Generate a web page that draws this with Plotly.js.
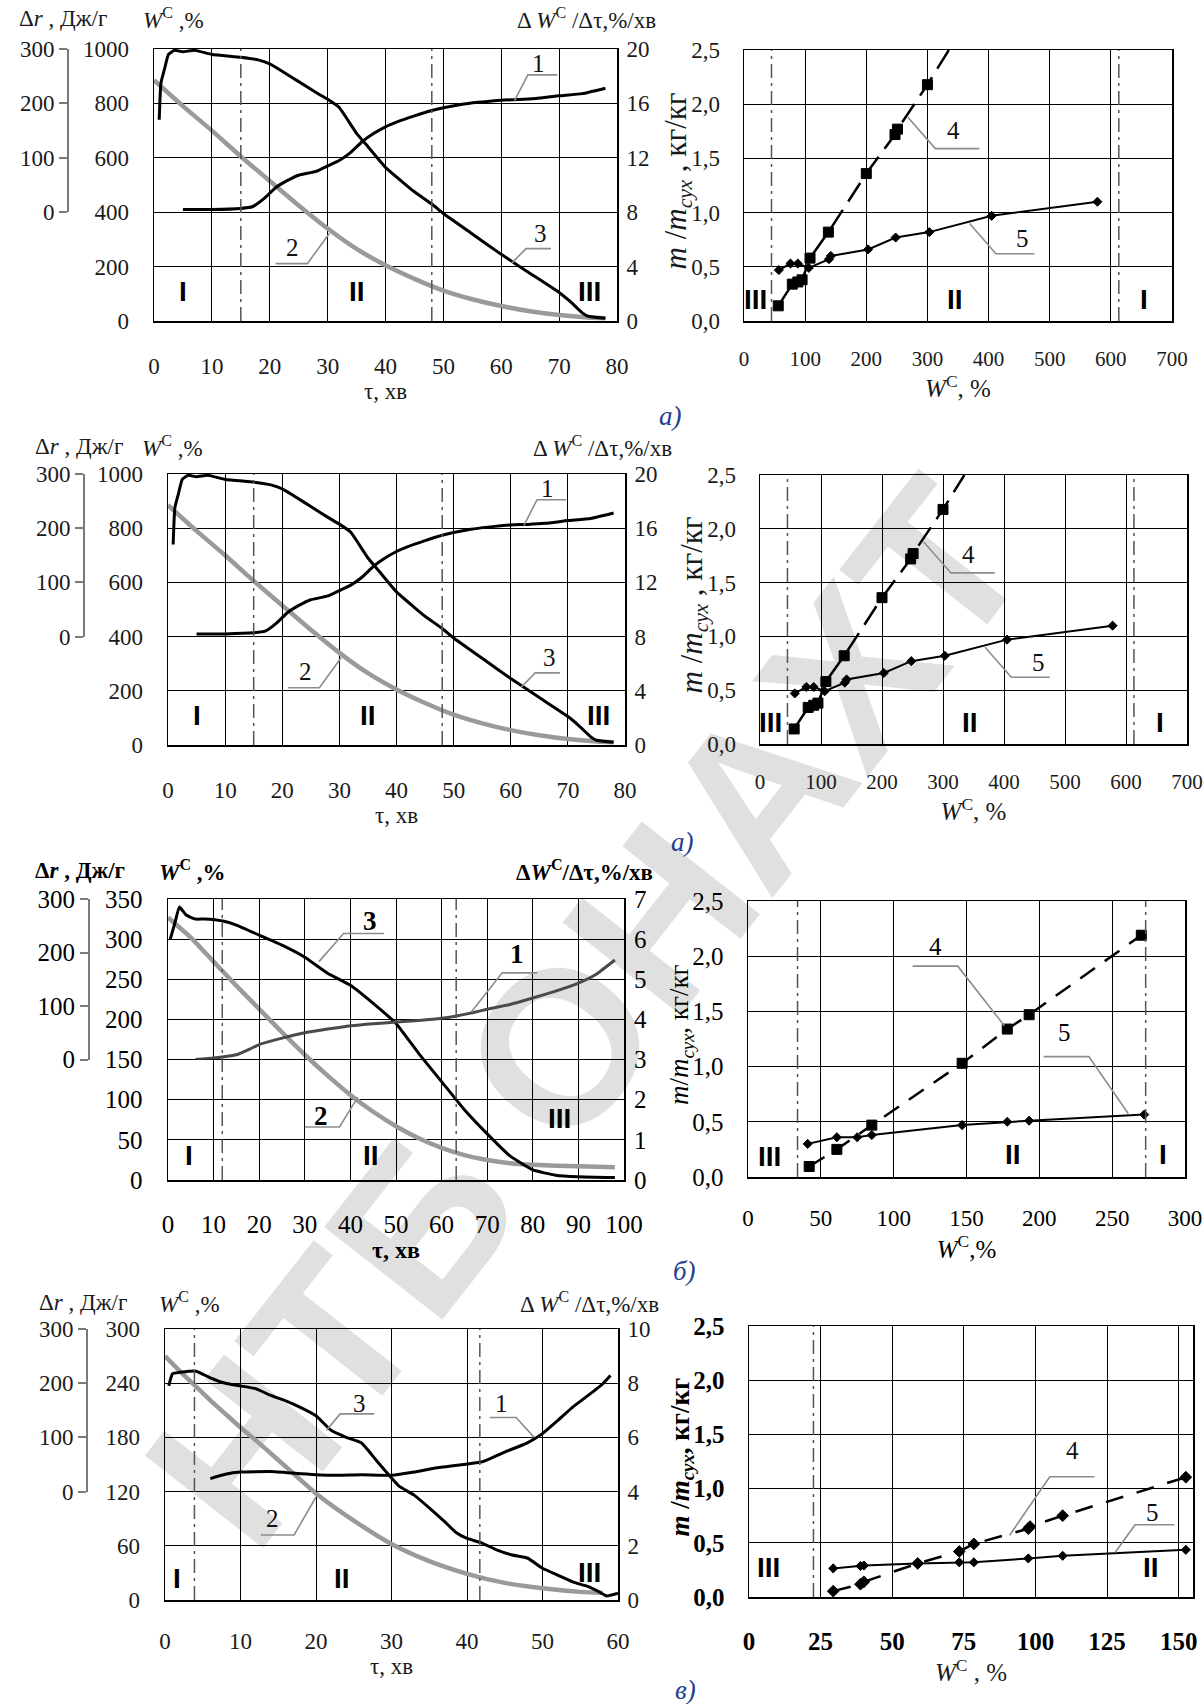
<!DOCTYPE html>
<html><head><meta charset="utf-8">
<script src="https://cdn.plot.ly/plotly-3.0.1.min.js"></script>
<style>html,body{margin:0;padding:0;background:#fff}#chart{width:1203px;height:1704px}</style>
</head><body><div id="chart"></div>
<script>
// ================= DATA =================
// а) (the figure is printed twice: rows 1 and 2)
const tauA_W = [0, 5, 10, 15, 20, 25, 30, 35, 40, 45, 50, 55, 60, 65, 70, 75, 78];
const moistA = [885, 790, 700, 605, 515, 425, 340, 265, 205, 155, 112, 80, 55, 36, 22, 13, 10];
const tauA_R = [0.9, 1.2, 1.8, 2.5, 3.5, 5, 7, 10, 15, 18, 20, 22, 25, 28, 30, 32, 35, 37, 40, 43, 45, 48, 50, 55, 60, 65, 70, 72, 74, 75, 78];
const rateA  = [14.8, 17.5, 18.5, 19.6, 19.9, 19.8, 19.9, 19.6, 19.4, 19.2, 18.9, 18.4, 17.6, 16.8, 16.3, 15.7, 13.8, 12.8, 11.3, 10.2, 9.5, 8.6, 7.9, 6.4, 4.9, 3.5, 2.1, 1.4, 0.6, 0.35, 0.2];
const tauA_D = [5, 10, 15, 17, 19, 21, 23, 25, 28, 30, 32, 34, 36, 38, 40, 42, 45, 48, 50, 53, 56, 60, 63, 66, 70, 74, 78];
const drA    = [5, 5, 7, 10, 25, 45, 58, 68, 75, 85, 95, 110, 130, 145, 157, 166, 177, 187, 192, 198, 202, 206, 207, 209, 214, 218, 228];
const wA4 = [56, 79, 88, 95, 108, 138, 200, 247, 251, 300, 335];
const mA4 = [0.14, 0.34, 0.36, 0.38, 0.58, 0.82, 1.36, 1.72, 1.77, 2.18, 2.5];
const wA5 = [57, 76, 88, 106, 139, 142, 203, 248, 303, 405, 578];
const mA5 = [0.47, 0.53, 0.53, 0.49, 0.57, 0.60, 0.66, 0.77, 0.82, 0.97, 1.10];
const stagesA_tau = [15, 48];
const stagesA_W = [45, 613];

// б)
const tauB_W = [0, 5, 10, 15, 20, 25, 30, 35, 40, 45, 50, 55, 60, 65, 70, 75, 80, 90, 98];
const moistB = [327, 302, 272, 242, 213, 184, 156, 130, 106, 85, 67, 52, 40, 31, 25, 21, 19, 17, 16];
const tauB_R = [0.5, 1.5, 2.5, 4, 6, 8, 12, 15, 20, 25, 30, 35, 40, 45, 50, 55, 60, 65, 70, 75, 80, 85, 90, 98];
const rateB  = [6.0, 6.4, 6.8, 6.6, 6.5, 6.5, 6.45, 6.35, 6.1, 5.85, 5.55, 5.15, 4.85, 4.4, 3.9, 3.15, 2.45, 1.75, 1.15, 0.6, 0.25, 0.12, 0.08, 0.06];
const tauB_D = [6, 10, 15, 18, 20, 25, 30, 35, 40, 45, 50, 55, 60, 63, 67, 70, 75, 80, 85, 90, 94, 98];
const drB    = [0, 3, 9, 20, 28, 40, 50, 57, 63, 67, 70, 73, 77, 81, 88, 94, 103, 115, 128, 143, 160, 186];
const wB4 = [42, 61, 85, 147, 178, 193, 270];
const mB4 = [0.095, 0.25, 0.47, 1.03, 1.34, 1.47, 2.19];
const wB5 = [41, 61, 75, 85, 147, 178, 193, 272];
const mB5 = [0.30, 0.36, 0.36, 0.38, 0.47, 0.50, 0.51, 0.565];
const stagesB_tau = [11.9, 63.2];
const stagesB_W = [34, 273];

// в)
const tauV_W = [0, 2, 4, 6, 8, 10, 12, 15, 20, 25, 30, 35, 40, 45, 50, 55, 58];
const moistV = [270, 253, 237, 221, 206, 191, 177, 155, 118, 88, 62, 43, 29, 19, 13, 9, 8];
const tauV_R = [0.5, 1, 2, 4, 6, 8, 10, 12, 14, 16, 18, 20, 22, 24, 26, 28, 30, 31, 33, 35, 37, 38.5, 40, 42, 44, 46, 48, 50, 52, 54, 56, 57.5, 58.5, 60];
const rateV  = [7.9, 8.35, 8.4, 8.45, 8.2, 8.0, 7.9, 7.8, 7.55, 7.35, 7.1, 6.8, 6.26, 6.0, 5.8, 5.15, 4.5, 4.2, 3.87, 3.4, 2.9, 2.5, 2.27, 2.1, 1.84, 1.66, 1.55, 1.17, 0.92, 0.67, 0.5, 0.3, 0.15, 0.25];
const tauV_D = [6, 8, 10, 14, 18, 22, 26, 30, 33, 36, 40, 42, 45, 48, 50, 52, 54, 56, 58, 59];
const drV    = [24, 32, 36, 37, 33, 30, 31, 30, 36, 44, 51, 55, 73, 90, 107, 131, 156, 177, 199, 214];
const wV4 = [29.4, 38.9, 40.1, 58.9, 73.4, 78.5, 97.5, 98.1, 109.5, 152.5];
const mV4 = [0.054, 0.118, 0.14, 0.31, 0.42, 0.49, 0.63, 0.65, 0.75, 1.105];
const wV5 = [29.4, 38.9, 40.1, 58.9, 73.4, 78.5, 97.5, 109.5, 152.5];
const mV5 = [0.264, 0.286, 0.29, 0.31, 0.32, 0.32, 0.356, 0.38, 0.435];
const stagesV_tau = [3.9, 41.7];
const stagesV_W = [22.5];

const stageNames = ['I', 'II', 'III'];

// ================= LAYOUT HELPERS =================
const FW = 1203, FH = 1704;
const px = v => v / FW;
const py = v => 1 - v / FH;
const data = [];
const layout = {
  width: FW, height: FH, autosize: false,
  margin: {l: 0, r: 0, t: 0, b: 0},
  paper_bgcolor: '#fff', plot_bgcolor: 'rgba(0,0,0,0)',
  showlegend: false, separators: ', ',
  font: {family: 'Liberation Serif', color: '#111'},
  annotations: [], shapes: []
};
let xc = 0, yc = 0;
const nx = () => (++xc === 1 ? 'x' : 'x' + xc);
const ny = () => (++yc === 1 ? 'y' : 'y' + yc);
const key = id => id[0] + 'axis' + id.slice(1);
const CLEAR = 'rgba(0,0,0,0)';
const GRID = {showgrid: true, gridcolor: '#000', gridwidth: 1, zeroline: false, ticklabeloverflow: 'allow',
  showline: true, mirror: true, linecolor: '#000', linewidth: 1.5, ticks: 'outside', tickcolor: CLEAR};

function leader(xa, ya, pts) {
  layout.shapes.push({type: 'path', xref: xa, yref: ya,
    path: 'M' + pts.map(p => p[0] + ',' + p[1]).join(' L'),
    line: {color: '#8c8c8c', width: 1.6}});
}
function note(xa, ya, x, y, text, font) {
  layout.annotations.push({xref: xa, yref: ya, x, y, text, showarrow: false, font});
}
function paperText(x, y, text, font, xanchor, angle) {
  layout.annotations.push({xref: 'paper', yref: 'paper', x: px(x), y: py(y), text, showarrow: false,
    xanchor: xanchor || 'left', yanchor: 'middle', textangle: angle || 0, font});
}
function stageLines(xa, ya, list) {
  list.forEach(v => layout.shapes.push({type: 'line', xref: xa, yref: ya + ' domain', x0: v, x1: v, y0: 0, y1: 1,
    line: {color: '#555', width: 1.5, dash: '14px,5px,3px,5px'}}));
}

function leftPanel(c) {
  const xa = nx(), yw = ny(), yr = ny(), yd = ny();
  const f = c.frame, yb = py(f.b), yt = py(f.t);
  layout[key(xa)] = Object.assign({}, GRID, {domain: [px(f.l), px(f.r)], anchor: yw, range: [0, c.xMax],
    dtick: c.xDtick, tick0: 0, ticklen: c.xTickLen, tickfont: c.tf,
    title: {text: 'τ, хв', font: c.titleFont, standoff: 0}});
  layout[key(yw)] = Object.assign({}, GRID, {domain: [yb, yt], anchor: xa, range: [0, c.wMax],
    dtick: c.wDtick, tick0: 0, ticklen: 19, tickfont: c.tf});
  layout[key(yr)] = {overlaying: yw, anchor: xa, side: 'right', range: [0, c.rMax], dtick: c.rDtick, tick0: 0,
    showgrid: false, zeroline: false, showline: false, ticks: 'outside', ticklen: 4, tickcolor: CLEAR, tickfont: c.tf};
  layout[key(yd)] = {domain: [yb + c.drZeroFrac * (yt - yb), yt], anchor: 'free', position: px(c.drAxisX), side: 'left',
    range: [0, 300], dtick: 100, tick0: 0, showgrid: false, zeroline: false, showline: true,
    linecolor: '#7a7a7a', linewidth: 2, ticks: 'outside', ticklen: 8, tickwidth: 2, tickcolor: '#7a7a7a', tickfont: c.tf};

  data.push({type: 'scatter', mode: 'lines', x: c.tauW, y: c.moist, xaxis: xa, yaxis: yw, hoverinfo: 'skip',
    line: {color: '#9a9a9a', width: 4.5, shape: 'spline', smoothing: 0.6}});
  data.push({type: 'scatter', mode: 'lines', x: c.tauR, y: c.rate, xaxis: xa, yaxis: yr, hoverinfo: 'skip',
    line: {color: '#000', width: 3, shape: 'spline', smoothing: 0.4}});
  data.push({type: 'scatter', mode: 'lines', x: c.tauD, y: c.dr, xaxis: xa, yaxis: yd, hoverinfo: 'skip',
    line: {color: c.drColor, width: 3, shape: 'spline', smoothing: 0.4}});

  stageLines(xa, yw, c.stages);
  c.regions.forEach((r, i) => note(xa, yw, r[0], r[1], stageNames[i], c.romanFont));
  c.labels.forEach(L => { note(xa, yw, L.at[0], L.at[1], L.text, c.numFont); leader(xa, yw, L.path); });

  const hy = c.headerY;
  paperText(c.hdr[0], hy, 'Δ<i>r</i> , Дж/г', c.hdrFont);
  paperText(c.hdr[1], hy, '<i>W</i><sup>C</sup> ,%', c.hdrFont);
  paperText(c.hdr[2], hy, c.rateHdr, c.hdrFont, 'right');
}

function rightPanel(c) {
  const xa = nx(), ym = ny();
  const f = c.frame;
  layout[key(xa)] = Object.assign({}, GRID, {domain: [px(f.l), px(f.r)], anchor: ym, range: [0, c.xMax],
    dtick: c.xDtick, tick0: 0, ticklen: c.xTickLen, tickfont: c.xtf,
    title: {text: c.xTitle, font: c.titleFont, standoff: 0}});
  layout[key(ym)] = Object.assign({}, GRID, {domain: [py(f.b), py(f.t)], anchor: xa, range: [0, 2.5],
    dtick: 0.5, tick0: 0, tickformat: '.1f', ticklen: 18, tickfont: c.tf});
  // rotated y-axis caption, placed tight against the tick labels as in the print
  paperText(c.yTitleX, (f.t + f.b) / 2 - 4, c.yTitle, c.yTitleFont, 'center', -90);

  const sizes4 = c.w4.map((_, i) => (c.openEnd && i === c.w4.length - 1) ? 0 : c.size4);
  data.push({type: 'scatter', mode: 'lines+markers', x: c.w4, y: c.m4, xaxis: xa, yaxis: ym, hoverinfo: 'skip',
    line: {color: '#000', width: 2.5, dash: c.dash4},
    marker: {symbol: c.sym4, size: sizes4, color: '#000', opacity: 1, line: {color: '#000', width: 1}}});
  data.push({type: 'scatter', mode: 'lines+markers', x: c.w5, y: c.m5, xaxis: xa, yaxis: ym, hoverinfo: 'skip',
    line: {color: '#000', width: 2},
    marker: {symbol: 'diamond', size: 7, color: '#000', opacity: 1, line: {color: '#000', width: 1}}});

  stageLines(xa, ym, c.stages);
  c.regions.forEach(r => note(xa, ym, r[0], r[1], r[2], c.romanFont));
  c.labels.forEach(L => { note(xa, ym, L.at[0], L.at[1], L.text, c.numFont); leader(xa, ym, L.path); });
}

// ================= FONTS =================
const fTickA = {family: 'Liberation Serif', size: 23, color: '#1a1a1a'};
const fTickAx = {family: 'Liberation Serif', size: 21, color: '#1a1a1a'};
const fTickB = {family: 'Liberation Serif', size: 25, color: '#000'};
const fTickBx = {family: 'Liberation Serif', size: 23, color: '#000'};
const fTickVb = {family: 'Liberation Serif', size: 25, color: '#000', weight: 700};
const fTitle = {family: 'Liberation Serif', size: 23, color: '#1a1a1a'};
const fTitleB = {family: 'Liberation Serif', size: 24, color: '#000', weight: 700};
const fXTitleR = {family: 'Liberation Serif', size: 25, color: '#1a1a1a'};
const fXTitleRB = {family: 'Liberation Serif', size: 25, color: '#000'};
const fYTitle = {family: 'Liberation Serif', size: 31, color: '#1a1a1a'};
const fYTitleB = {family: 'Liberation Serif', size: 27, color: '#000'};
const fYTitleVb = {family: 'Liberation Serif', size: 27, color: '#000', weight: 700};
const fRoman = {family: 'Liberation Sans', size: 28, color: '#000', weight: 700};
const fNum = {family: 'Liberation Serif', size: 25, color: '#111'};
const fHdr = {family: 'Liberation Serif', size: 23, color: '#1a1a1a'};
const fHdrB = {family: 'Liberation Serif', size: 23, color: '#000', weight: 700};
const fTag = {family: 'Liberation Serif', size: 27, color: '#23408e', style: 'italic'};

const rateHdrThin = 'Δ <i>W</i><sup>C</sup> /Δτ,%/хв';
const rateHdrBold = 'Δ<i>W</i><sup>C</sup>/Δτ,%/хв';

// ================= PANELS =================
const labelsA_L = [
  {text: '1', at: [66.5, 945], path: [[62.3, 810], [64.6, 905], [69.7, 905]]},
  {text: '2', at: [24, 272], path: [[21, 211], [26.5, 211], [30.3, 322]]},
  {text: '3', at: [66.7, 322], path: [[61.8, 213], [64.3, 266], [68.6, 266]]}
];
const labelsA_R = [
  {text: '4', at: [342, 1.76], path: [[268, 1.88], [313, 1.59], [385, 1.59]]},
  {text: '5', at: [456, 0.76], path: [[369, 0.9], [412, 0.62], [475, 0.62]]}
];
const rowsA = [
  {L: {l: 154, r: 617, t: 49, b: 321}, R: {l: 744, r: 1172, t: 50, b: 321}, hy: 19, hdr: [17, 141, 658], dr: 68, tag: [670, 416], yt: 677},
  {L: {l: 168, r: 625, t: 474, b: 745}, R: {l: 760, r: 1187, t: 475, b: 744}, hy: 446, hdr: [33, 140, 674], dr: 84, tag: [682, 842], yt: 693}
];
rowsA.forEach(row => {
  leftPanel({frame: row.L, xMax: 80, xDtick: 10, xTickLen: 24, wMax: 1000, wDtick: 200, rMax: 20, rDtick: 4,
    drZeroFrac: 400 / 1000, drAxisX: row.dr, tf: fTickA, titleFont: fTitle,
    tauW: tauA_W, moist: moistA, tauR: tauA_R, rate: rateA, tauD: tauA_D, dr: drA, drColor: '#000',
    stages: stagesA_tau, regions: [[5, 108], [35, 108], [75.3, 108]], romanFont: fRoman,
    labels: labelsA_L, numFont: fNum, headerY: row.hy, hdr: row.hdr, hdrFont: fHdr, rateHdr: rateHdrThin});
  rightPanel({frame: row.R, xMax: 700, xDtick: 100, xTickLen: 18, tf: fTickA, xtf: fTickAx, titleFont: fXTitleR,
    xTitle: '<i>W</i><sup>C</sup>, %', yTitle: '<i>m</i> /<i>m</i><sub><i>сух</i></sub> , кг/кг', yTitleFont: fYTitle, yTitleX: row.yt,
    w4: wA4, m4: mA4, openEnd: true, size4: 10, sym4: 'square', dash4: '22px,10px', w5: wA5, m5: mA5,
    stages: stagesA_W, regions: [[18, 0.2, 'III'], [345, 0.2, 'II'], [655, 0.2, 'I']], romanFont: fRoman,
    labels: labelsA_R, numFont: fNum});
  paperText(row.tag[0], row.tag[1], 'а)', fTag, 'center');
});

// б)
leftPanel({frame: {l: 168, r: 624, t: 899, b: 1180}, xMax: 100, xDtick: 10, xTickLen: 21, wMax: 350, wDtick: 50, rMax: 7, rDtick: 1,
  drZeroFrac: 150 / 350, drAxisX: 89, tf: fTickB, titleFont: fTitleB,
  tauW: tauB_W, moist: moistB, tauR: tauB_R, rate: rateB, tauD: tauB_D, dr: drB, drColor: '#4a4a4a',
  stages: stagesB_tau, regions: [[4.7, 31], [44.5, 31], [85.9, 76]], romanFont: fRoman,
  labels: [
    {text: '3', at: [44.3, 322], path: [[33.1, 272], [38.5, 307], [47.4, 307]]},
    {text: '1', at: [76.5, 281], path: [[66.6, 210], [73.3, 258], [81, 258]]},
    {text: '2', at: [33.5, 80], path: [[30, 66], [37.6, 66], [41.6, 103]]}
  ], numFont: {family: 'Liberation Serif', size: 27, color: '#000', weight: 700},
  headerY: 870, hdr: [33, 157, 655], hdrFont: fHdrB, rateHdr: rateHdrBold});
rightPanel({frame: {l: 748, r: 1185, t: 901, b: 1177}, xMax: 300, xDtick: 50, xTickLen: 20, tf: fTickB, xtf: fTickBx, titleFont: fXTitleRB,
  xTitle: '<i>W</i><sup>C</sup>,%', yTitle: '<i>m</i>/<i>m</i><sub><i>сух</i></sub>, кг/кг', yTitleFont: fYTitleB, yTitleX: 681,
  w4: wB4, m4: mB4, openEnd: false, size4: 10, sym4: 'square', dash4: '18px,12px', w5: wB5, m5: mB5,
  stages: stagesB_W, regions: [[15, 0.19, 'III'], [182, 0.2, 'II'], [285, 0.2, 'I']], romanFont: fRoman,
  labels: [
    {text: '4', at: [129, 2.09], path: [[113, 1.91], [144, 1.91], [176, 1.37]]},
    {text: '5', at: [217, 1.31], path: [[203, 1.09], [234, 1.09], [261, 0.575]]}
  ], numFont: {family: 'Liberation Serif', size: 25, color: '#000'}});
paperText(684, 1271, 'б)', fTag, 'center');

// в)
leftPanel({frame: {l: 165, r: 618, t: 1329, b: 1600}, xMax: 60, xDtick: 10, xTickLen: 20, wMax: 300, wDtick: 60, rMax: 10, rDtick: 2,
  drZeroFrac: 120 / 300, drAxisX: 87, tf: fTickA, titleFont: fTitle,
  tauW: tauV_W, moist: moistV, tauR: tauV_R, rate: rateV, tauD: tauV_D, dr: drV, drColor: '#000',
  stages: stagesV_tau, regions: [[1.6, 24], [23.5, 24], [56.2, 31]], romanFont: fRoman,
  labels: [
    {text: '3', at: [25.7, 217], path: [[21.4, 188], [23.2, 206], [27.7, 206]]},
    {text: '1', at: [44.6, 217], path: [[43, 202], [46.5, 202], [48.9, 180]]},
    {text: '2', at: [14.3, 90], path: [[12.7, 72], [17.1, 72], [20, 114]]}
  ], numFont: fNum, headerY: 1302, hdr: [37, 157, 661], hdrFont: fHdr, rateHdr: rateHdrThin});
rightPanel({frame: {l: 749, r: 1193, t: 1326, b: 1597}, xMax: 155, xDtick: 25, xTickLen: 21, tf: fTickVb, xtf: fTickVb, titleFont: fXTitleR,
  xTitle: '<i>W</i><sup>C</sup> , %', yTitle: '<i>m</i> /<i>m</i><sub><i>сух</i></sub>, кг/кг', yTitleFont: fYTitleVb, yTitleX: 681,
  w4: wV4, m4: mV4, openEnd: false, size4: 9, sym4: 'diamond', dash4: '18px,14px', w5: wV5, m5: mV5,
  stages: stagesV_W, regions: [[6.7, 0.27, 'III'], [140.5, 0.27, 'II']], romanFont: fRoman,
  labels: [
    {text: '4', at: [113, 1.35], path: [[91, 0.57], [105, 1.11], [120.6, 1.11]]},
    {text: '5', at: [141, 0.78], path: [[127.8, 0.41], [134.8, 0.667], [148.5, 0.667]]}
  ], numFont: fNum});
paperText(685, 1690, 'в)', fTag, 'center');

// library watermark (light grey, behind the plots)
layout.shapes.push({type: 'line', xref: 'paper', yref: 'paper', layer: 'below',
  x0: px(385), y0: py(1236), x1: px(755), y1: py(764), line: {color: CLEAR, width: 1},
  label: {text: 'НТБ ОНАХТ', textposition: 'middle', textangle: 'auto', xanchor: 'center', yanchor: 'middle',
    font: {family: 'Liberation Sans', size: 218, color: '#e0e0e0', weight: 700}}});

Plotly.newPlot('chart', data, layout, {staticPlot: true, displayModeBar: false});
</script>
</body></html>
